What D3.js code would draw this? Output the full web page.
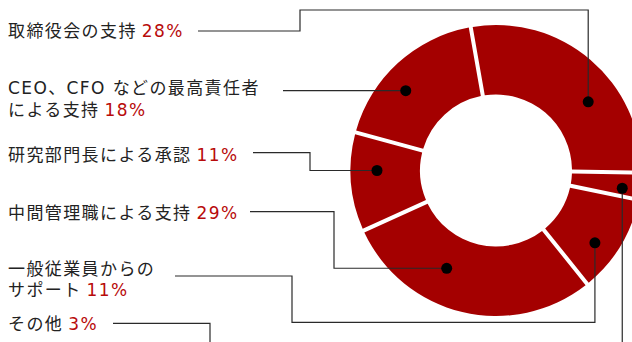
<!DOCTYPE html>
<html>
<head>
<meta charset="utf-8">
<script src="https://cdn.jsdelivr.net/npm/d3@7"></script>
<style>
  body { margin: 0; background: #fff; }
  svg { display: block; }
</style>
</head>
<body>
<svg id="chart" width="632" height="342"></svg>
<script>
// Slices in clockwise order, starting just left of 12 o'clock
const categories = [
  "取締役会の支持",
  "その他",
  "一般従業員からの\nサポート",
  "中間管理職による支持",
  "研究部門長による承認",
  "CEO、CFO などの最高責任者\nによる支持"
];
const shares = [28, 3, 11, 29, 11, 18];
const shareLabels = ["28%", "3%", "11%", "29%", "11%", "18%"];

// Geometry
const cx = 496, cy = 170.5, rInner = 76, rOuter = 145.5;
const startDeg = -10;
const gap = 4;

// Label placement and leader routing, per slice (same order as above)
// t: where along the slice the dot sits, r: dot radius from centre
const leaders = [
  { textY: 31,    lineX: 198, lineY: 31,    route: "over", elbowX: 300, elbowY: 10,    t: 0.628, r: 115 },
  { textY: 324.5, lineX: 113, lineY: 323.3, route: "over", elbowX: 210, elbowY: 360,   t: 0.667, r: 127.5 },
  { textY: 269,   lineX: 175, lineY: 276,   route: "over", elbowX: 292, elbowY: 322.3, t: 0.62,  r: 122.5 },
  { textY: 213.5, lineX: 250, lineY: 211.7, route: "side", elbowX: 334, t: 0.628, r: 109.5 },
  { textY: 155.5, lineX: 253, lineY: 152.7, route: "side", elbowX: 310, t: 0.616, r: 119 },
  { textY: 88.5,  lineX: 283, lineY: null,  route: "direct", t: 0.406, r: 120.5 }
];

const svg = d3.select("#chart");
const font = "'DejaVu Sans', 'Noto Sans CJK JP', sans-serif";

const pie = d3.pie()
  .sort(null)
  .startAngle(startDeg * Math.PI / 180)
  .endAngle(startDeg * Math.PI / 180 + 2 * Math.PI);

const arcs = pie(shares);

const arc = d3.arc()
  .innerRadius(rInner)
  .outerRadius(rOuter)
  .padRadius(rOuter)
  .padAngle(gap / rOuter);

const g = svg.append("g").attr("transform", `translate(${cx},${cy})`);

g.selectAll("path.slice")
  .data(arcs)
  .join("path")
  .attr("class", "slice")
  .attr("d", arc)
  .attr("fill", "#a40000");

// Dot positions derived from each slice's angular span
const dots = arcs.map((a, i) => {
  const L = leaders[i];
  const ang = a.startAngle + L.t * (a.endAngle - a.startAngle);
  return { x: cx + L.r * Math.sin(ang), y: cy - L.r * Math.cos(ang) };
});

// Leader lines
const leaderPath = (L, d) => {
  const p = d3.path();
  if (L.route === "direct") {
    p.moveTo(L.lineX, d.y);
    p.lineTo(d.x, d.y);
  } else if (L.route === "side") {
    p.moveTo(L.lineX, L.lineY);
    p.lineTo(L.elbowX, L.lineY);
    p.lineTo(L.elbowX, d.y);
    p.lineTo(d.x, d.y);
  } else {
    p.moveTo(L.lineX, L.lineY);
    p.lineTo(L.elbowX, L.lineY);
    p.lineTo(L.elbowX, L.elbowY);
    p.lineTo(d.x, L.elbowY);
    p.lineTo(d.x, d.y);
  }
  return p.toString();
};

svg.append("g")
  .selectAll("path")
  .data(leaders)
  .join("path")
  .attr("d", (L, i) => leaderPath(L, dots[i]))
  .attr("fill", "none")
  .attr("stroke", "#2a2a2a")
  .attr("stroke-width", 1.2);

svg.append("g")
  .selectAll("circle")
  .data(dots)
  .join("circle")
  .attr("cx", d => d.x)
  .attr("cy", d => d.y)
  .attr("r", 5.5)
  .attr("fill", "#000");

// Category labels with their shares, one text element per line
const labels = svg.append("g")
  .attr("font-family", font)
  .attr("font-size", 17)
  .attr("letter-spacing", 1.4)
  .attr("fill", "#222");

const lineStep = 21.5;

categories.forEach((name, i) => {
  const lines = name.split("\n");
  const L = leaders[i];
  lines.forEach((ln, k) => {
    const last = k === lines.length - 1;
    const text = labels.append("text")
      .attr("x", 8)
      .attr("y", L.textY + k * lineStep)
      .attr("dy", "0.35em");
    text.append("tspan").text(ln);
    if (last) {
      text.append("tspan")
        .attr("dx", 5)
        .attr("fill", "#b80b0b")
        .text(shareLabels[i]);
    }
  });
});
</script>
</body>
</html>
